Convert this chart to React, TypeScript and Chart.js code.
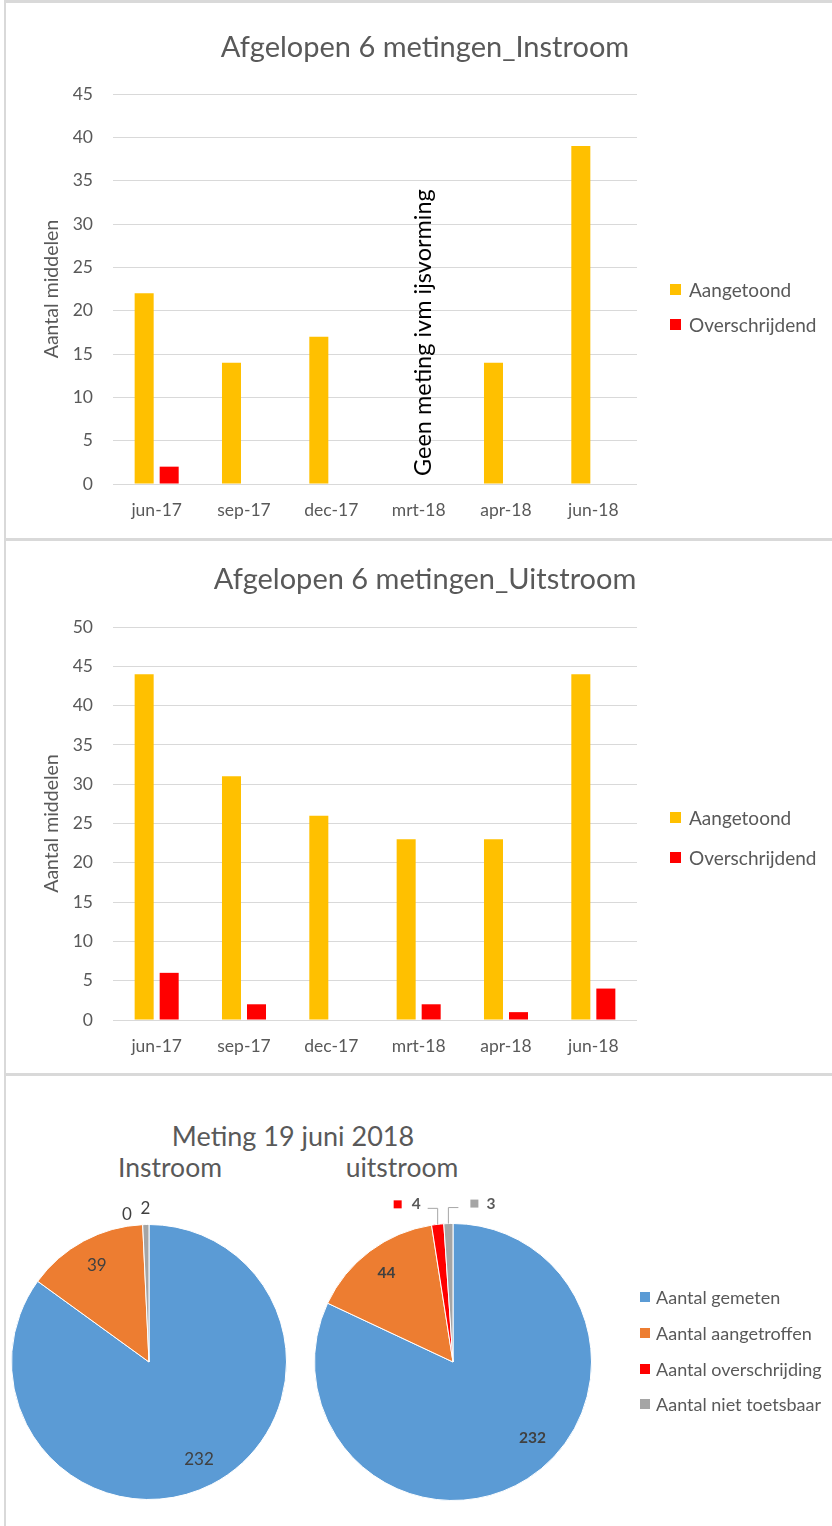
import React, { useEffect, useRef } from "react";
import { Chart, registerables } from "chart.js";

Chart.register(...registerables);

const FONT = "Lato, 'Open Sans', sans-serif";
const TEXT = "#595959";
const GRID = "#D9D9D9";

const CATEGORIES = ["jun-17", "sep-17", "dec-17", "mrt-18", "apr-18", "jun-18"];
const BAR_SERIES = ["Aangetoond", "Overschrijdend"];
const BAR_COLORS = ["#FFC000", "#FF0000"];

const IN_AANGETOOND = [22, 14, 17, null, 14, 39];
const IN_OVERSCHRIJDEND = [2, 0, 0, null, 0, 0];
const UIT_AANGETOOND = [44, 31, 26, 23, 23, 44];
const UIT_OVERSCHRIJDEND = [6, 2, 0, 2, 1, 4];

const IN_TITLE = "Afgelopen 6 metingen_Instroom";
const UIT_TITLE = "Afgelopen 6 metingen_Uitstroom";
const Y_TITLE = "Aantal middelen";
const NOTE = "Geen meting ivm ijsvorming";
const NOTE_INDEX = 3;

const PIE_TITLE = "Meting 19 juni 2018";
const PIE_IN_TITLE = "Instroom";
const PIE_UIT_TITLE = "uitstroom";
const PIE_LABELS = ["Aantal gemeten", "Aantal aangetroffen", "Aantal overschrijding", "Aantal niet toetsbaar"];
const PIE_COLORS = ["#5B9BD5", "#ED7D31", "#FF0000", "#A5A5A5"];
const PIE_IN = [232, 39, 0, 2];
const PIE_UIT = [232, 44, 4, 3];

type BarProps = {
  top: number;
  height: number;
  title: string;
  a: (number | null)[];
  o: (number | null)[];
  yMax: number;
  plotTop: number;
  plotBottom: number;
  titleY: number;
  note?: boolean;
  legendY: number[];
};

function BarPanel(p: BarProps) {
  const ref = useRef<HTMLCanvasElement>(null);
  useEffect(() => {
    const titleSize = 29;
    const lh = titleSize * 1.2;
    const pt = p.titleY - lh / 2;
    const pb = p.plotTop - pt - lh;
    const notePlugin = {
      id: "note",
      afterDatasetsDraw(chart: any) {
        const { ctx, scales } = chart;
        const cx = scales.x.getPixelForValue(NOTE_INDEX) + 4.5;
        const sy = scales.y.getPixelForValue(0) - 8;
        ctx.save();
        ctx.translate(cx, sy);
        ctx.rotate(-Math.PI / 2);
        ctx.font = `23.5px ${FONT}`;
        ctx.fillStyle = "#000";
        ctx.textAlign = "left";
        ctx.textBaseline = "middle";
        ctx.fillText(NOTE, 0, 0);
        ctx.restore();
      },
    };
    const chart = new Chart(ref.current!, {
      type: "bar",
      data: {
        labels: CATEGORIES,
        datasets: [
          { label: BAR_SERIES[0], data: p.a, backgroundColor: BAR_COLORS[0], categoryPercentage: 0.573, barPercentage: 0.76 },
          { label: BAR_SERIES[1], data: p.o, backgroundColor: BAR_COLORS[1], categoryPercentage: 0.573, barPercentage: 0.76 },
        ],
      },
      options: {
        responsive: false,
        maintainAspectRatio: false,
        animation: false,
        layout: { padding: { left: 18, right: 0, top: 0, bottom: 0 } },
        plugins: {
          legend: { display: false },
          tooltip: { enabled: false },
          title: {
            display: true,
            text: p.title,
            color: TEXT,
            font: { family: FONT, size: titleSize, weight: "normal", lineHeight: 1.2 },
            padding: { top: pt, bottom: pb },
          },
        },
        scales: {
          x: {
            grid: { display: false, drawTicks: false },
            border: { display: false },
            ticks: { color: TEXT, font: { family: FONT, size: 17.5 }, padding: 16 },
            afterFit: (s: any) => {
              s.height = p.height - p.plotBottom;
            },
          },
          y: {
            min: 0,
            max: p.yMax,
            ticks: { stepSize: 5, color: TEXT, font: { family: FONT, size: 17.5 }, padding: 20 },
            grid: { color: GRID, lineWidth: 1, drawTicks: false },
            border: { display: false },
            title: {
              display: true,
              text: Y_TITLE,
              color: TEXT,
              font: { family: FONT, size: 19.5, lineHeight: 1.2 },
              padding: { top: 22.3, bottom: 0 },
            },
            afterFit: (s: any) => {
              s.width = 113 - 18;
            },
          },
          y2: {
            position: "right",
            display: true,
            grid: { display: false, drawTicks: false },
            border: { display: false },
            ticks: { display: false },
            afterFit: (s: any) => {
              s.width = 832 - 637;
            },
          },
        },
      } as any,
      plugins: p.note ? [notePlugin] : [],
    });
    return () => chart.destroy();
  }, []);
  return (
    <div style={{ position: "absolute", left: 0, top: p.top, width: 832, height: p.height }}>
      <div
        style={{
          position: "absolute",
          left: 4,
          top: 0,
          width: 900,
          height: p.height,
          borderLeft: `2px solid ${GRID}`,
          borderTop: `3px solid ${GRID}`,
          boxSizing: "border-box",
        }}
      />
      <canvas ref={ref} width={832} height={p.height} style={{ position: "absolute", left: 0, top: 0 }} />
      {BAR_SERIES.map((s, i) => (
        <div
          key={s}
          style={{
            position: "absolute",
            left: 670,
            top: p.legendY[i] - 12,
            height: 24,
            display: "flex",
            alignItems: "center",
            fontFamily: FONT,
            fontSize: 19,
            color: TEXT,
            whiteSpace: "nowrap",
          }}
        >
          <span style={{ display: "inline-block", width: 11, height: 11, background: BAR_COLORS[i], marginRight: 8 }} />
          {s}
        </div>
      ))}
    </div>
  );
}

type LabelSpec = { mode: "inside" | "outside" | "callout"; dx?: number; dy?: number; side?: number };

type PieProps = {
  values: number[];
  cx: number;
  cy: number;
  r: number;
  font: string;
  labels: LabelSpec[];
};

function PieCanvas(p: PieProps) {
  const ref = useRef<HTMLCanvasElement>(null);
  useEffect(() => {
    const W = 832;
    const H = 453;
    const labelPlugin = {
      id: "pieLabels",
      afterDatasetsDraw(chart: any) {
        const { ctx } = chart;
        const meta = chart.getDatasetMeta(0);
        meta.data.forEach((arc: any, i: number) => {
          const spec = p.labels[i];
          if (!spec) return;
          const { x, y, startAngle, endAngle, outerRadius } = arc.getProps(
            ["x", "y", "startAngle", "endAngle", "outerRadius"],
            true
          );
          const mid = (startAngle + endAngle) / 2;
          const txt = String(p.values[i]);
          ctx.save();
          ctx.font = p.font;
          ctx.fillStyle = "#404040";
          ctx.textBaseline = "middle";
          if (spec.mode === "inside" || spec.mode === "outside") {
            const rr = spec.mode === "inside" ? outerRadius * 0.8 : outerRadius + 14;
            const px = x + Math.cos(mid) * rr + (spec.dx || 0);
            const py = y + Math.sin(mid) * rr + (spec.dy || 0);
            ctx.textAlign = "center";
            ctx.fillText(txt, px, py);
          } else {
            const side = spec.side || 1;
            const ex = x + Math.cos(mid) * outerRadius;
            const ey = y + Math.sin(mid) * outerRadius;
            const elbowY = ey - 16;
            const lineEnd = ex + side * 10;
            ctx.strokeStyle = "#A6A6A6";
            ctx.lineWidth = 1;
            ctx.beginPath();
            ctx.moveTo(ex, ey);
            ctx.lineTo(ex, elbowY);
            ctx.lineTo(lineEnd, elbowY);
            ctx.stroke();
            const tw = ctx.measureText(txt).width;
            const ly = elbowY - 4;
            ctx.fillStyle = PIE_COLORS[i];
            let sqX: number;
            let tX: number;
            if (side < 0) {
              tX = lineEnd - 7 - tw;
              sqX = tX - 10 - 8;
            } else {
              sqX = lineEnd + 12;
              tX = sqX + 8 + 8;
            }
            ctx.fillRect(sqX, ly - 4, 8, 8);
            ctx.fillStyle = "#595959";
            ctx.textAlign = "left";
            ctx.fillText(txt, tX, ly);
          }
          ctx.restore();
        });
      },
    };
    const chart = new Chart(ref.current!, {
      type: "pie",
      data: {
        labels: PIE_LABELS,
        datasets: [{ data: p.values, backgroundColor: PIE_COLORS, borderColor: "#FFFFFF", borderWidth: 1 }],
      },
      options: {
        responsive: false,
        maintainAspectRatio: false,
        animation: false,
        layout: {
          padding: {
            left: p.cx - p.r,
            right: W - (p.cx + p.r),
            top: p.cy - p.r,
            bottom: H - (p.cy + p.r),
          },
        },
        plugins: { legend: { display: false }, tooltip: { enabled: false }, title: { display: false } },
      } as any,
      plugins: [labelPlugin],
    });
    return () => chart.destroy();
  }, []);
  return <canvas ref={ref} width={832} height={453} style={{ position: "absolute", left: 0, top: 0 }} />;
}

function PiePanel() {
  const top = 1073;
  const legendY = [1297, 1333, 1369, 1404];
  const txt = (s: string, x: number, y: number, size: number) => (
    <div
      style={{
        position: "absolute",
        left: x - 200,
        width: 400,
        top: y - top - size * 0.6,
        height: size * 1.2,
        lineHeight: `${size * 1.2}px`,
        textAlign: "center",
        fontFamily: FONT,
        fontSize: size,
        color: TEXT,
        whiteSpace: "nowrap",
      }}
    >
      {s}
    </div>
  );
  return (
    <div style={{ position: "absolute", left: 0, top, width: 832, height: 453 }}>
      <div
        style={{
          position: "absolute",
          left: 4,
          top: 0,
          width: 900,
          height: 460,
          borderLeft: `2px solid ${GRID}`,
          borderTop: `3px solid ${GRID}`,
          boxSizing: "border-box",
        }}
      />
      {txt(PIE_TITLE, 293, 1136, 27)}
      {txt(PIE_IN_TITLE, 170, 1168, 26.5)}
      {txt(PIE_UIT_TITLE, 402, 1168, 26.5)}
      <PieCanvas
        values={PIE_IN}
        cx={149}
        cy={289}
        r={138}
        font={`17px ${FONT}`}
        labels={[
          { mode: "inside" },
          { mode: "inside" },
          { mode: "outside", dx: -15, dy: 4 },
          { mode: "outside", dx: 0, dy: -2 },
        ]}
      />
      <PieCanvas
        values={PIE_UIT}
        cx={453}
        cy={289}
        r={139}
        font={`bold 15.5px ${FONT}`}
        labels={[
          { mode: "inside", dx: 20, dy: -18 },
          { mode: "inside" },
          { mode: "callout", side: -1 },
          { mode: "callout", side: 1 },
        ]}
      />
      {PIE_LABELS.map((s, i) => (
        <div
          key={s}
          style={{
            position: "absolute",
            left: 640,
            top: legendY[i] - top - 12,
            height: 24,
            display: "flex",
            alignItems: "center",
            fontFamily: FONT,
            fontSize: 18,
            color: TEXT,
            whiteSpace: "nowrap",
          }}
        >
          <span style={{ display: "inline-block", width: 10, height: 10, background: PIE_COLORS[i], marginRight: 6 }} />
          {s}
        </div>
      ))}
    </div>
  );
}

export default function App() {
  return (
    <div
      style={{
        position: "absolute",
        left: 0,
        top: 0,
        width: 832,
        height: 1526,
        overflow: "hidden",
        background: "#FFFFFF",
      }}
    >
      <BarPanel
        top={0}
        height={538}
        title={IN_TITLE}
        a={IN_AANGETOOND}
        o={IN_OVERSCHRIJDEND}
        yMax={45}
        plotTop={94}
        plotBottom={484}
        titleY={48}
        note
        legendY={[289, 324]}
      />
      <BarPanel
        top={538}
        height={535}
        title={UIT_TITLE}
        a={UIT_AANGETOOND}
        o={UIT_OVERSCHRIJDEND}
        yMax={50}
        plotTop={89}
        plotBottom={482}
        titleY={42}
        legendY={[817 - 538, 857 - 538]}
      />
      <PiePanel />
    </div>
  );
}
